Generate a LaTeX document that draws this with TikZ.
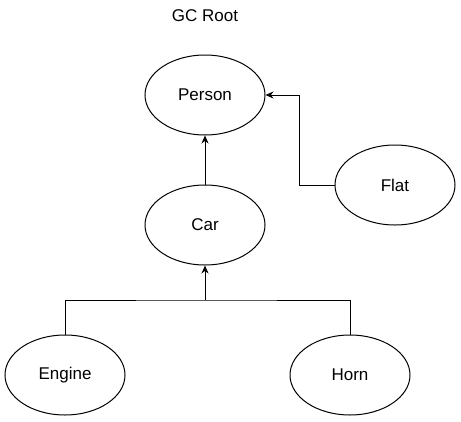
\documentclass[tikz,border=0pt]{standalone}
\usepackage{fontspec}
\setmainfont{Liberation Sans}
\usetikzlibrary{shapes.geometric,arrows.meta}
\tikzset{
    object/.style = {
        ellipse,
        draw,
        minimum width=120pt,
        minimum height=80pt,
        inner sep=0pt,
        },
    ref/.style = {
        draw,
        line width=1pt,
        },
}
\begin{document}
\begin{tikzpicture}[
            x=1pt, y=-1pt,
            line width=1pt,
            every node/.style={font=\fontsize{17}{20}\selectfont},
            >={Stealth[length=8pt, width=7pt]}
            ]
            \useasboundingbox (0,0) rectangle (461,421);

            \node (root) at (205,16) {GC Root};
            \node [object] (person) at (205,95) {Person};
            \node [object] (flat) at (395,185) {Flat};
            \node [object] (car) at (205,225) {Car};
            \node [object] (engine) at (65,375) {Engine};
            \node [object] (horn) at (350,375) {Horn};
            \coordinate (join) at (205,300);

            \draw[ref, ->] (car) -- (person);
            \draw[ref, ->] (flat.west) -- ++(-35,0) |- (person.east);
            \draw[ref] (engine.north) |- (join) -| (horn.north);
            \draw[ref, ->] (join) -- (car.south);
        \end{tikzpicture}
\end{document}
